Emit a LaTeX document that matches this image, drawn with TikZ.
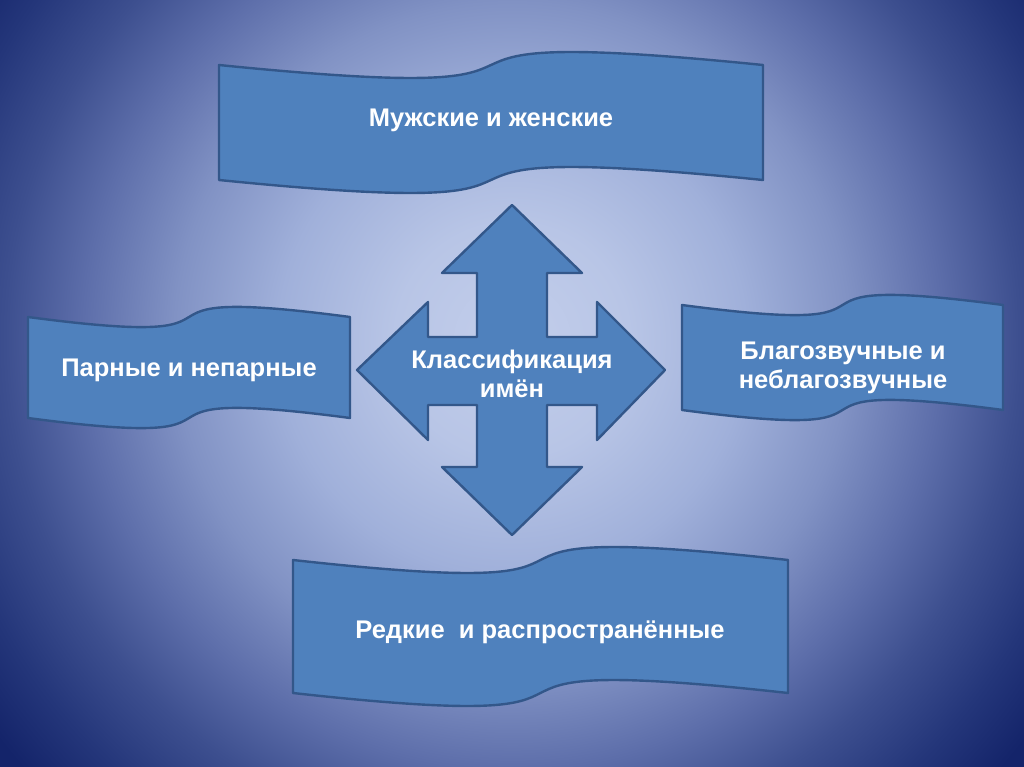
\documentclass[tikz,border=0pt]{standalone}
\usepackage{fontspec}
\setmainfont{Liberation Sans}
\definecolor{bgA}{HTML}{C3CEEB}
\definecolor{bgB}{HTML}{B8C5E6}
\definecolor{bgC}{HTML}{A0B0DA}
\definecolor{bgD}{HTML}{8192C4}
\definecolor{bgE}{HTML}{5D6EAA}
\definecolor{bgF}{HTML}{3D4F8F}
\definecolor{bgG}{HTML}{24367A}
\definecolor{bgH}{HTML}{14246A}
\definecolor{shapefill}{HTML}{4F81BD}
\definecolor{shapeline}{HTML}{33578A}
\pgfdeclareradialshading{bgglow}{\pgfpoint{0bp}{0bp}}{color(0bp)=(bgA); color(4.5bp)=(bgB); color(9bp)=(bgC); color(13bp)=(bgD); color(16.5bp)=(bgE); color(19.5bp)=(bgF); color(22.5bp)=(bgG); color(25bp)=(bgH); color(50bp)=(bgH)}
\tikzset{
  banner/.style={fill=shapefill, draw=shapeline, line width=2.4pt, line join=round},
  label/.style={text=white, font=\fontsize{25.5}{29}\selectfont\bfseries, align=center, inner sep=0pt}
}
% #1 left, #2 top, #3 right, #4 height, #5 wave depth
\newcommand{\wavebanner}[5]{%
  \draw[banner] (#1,#2) .. controls ({#1+0.82*(#3-#1)},{#2+#5}) and ({#3-0.82*(#3-#1)},{#2-#5}) .. (#3,#2)
    -- (#3,{#2+#4}) .. controls ({#3-0.82*(#3-#1)},{#2+#4-#5}) and ({#1+0.82*(#3-#1)},{#2+#4+#5}) .. (#1,{#2+#4}) -- cycle;}
\begin{document}
\begin{tikzpicture}[x=1pt,y=-1pt]
\useasboundingbox (0,0) rectangle (1024,767);
\begin{scope}
  \clip (0,0) rectangle (1024,767);
  \shade[shading=bgglow] (-138,-310) rectangle (1162,990);
\end{scope}
% banners
\wavebanner{219}{65}{763}{115}{45}
\node[label] (top) at (491,120) {Мужские и женские};
\wavebanner{28}{317}{350}{101}{35}
\node[label] (left) at (189,370) {Парные и непарные};
\wavebanner{682}{305}{1003}{105}{35}
\node[label] (right) at (843,368) {Благозвучные и\\неблагозвучные};
\wavebanner{293}{560}{788}{133}{45}
\node[label] (bottom) at (540,632) {Редкие \ и распространённые};
% central four-way arrow
\draw[banner] (512,205) -- (582,273) -- (547,273) -- (547,337) -- (597,337) -- (597,302)
  -- (665,370) -- (597,440) -- (597,405) -- (547,405) -- (547,467) -- (582,467)
  -- (512,535) -- (442,467) -- (477,467) -- (477,405) -- (428,405) -- (428,440)
  -- (357,370) -- (428,302) -- (428,337) -- (477,337) -- (477,273) -- (442,273) -- cycle;
\node[label] (center) at (512,374) {Классификация\\имён};
\end{tikzpicture}
\end{document}
